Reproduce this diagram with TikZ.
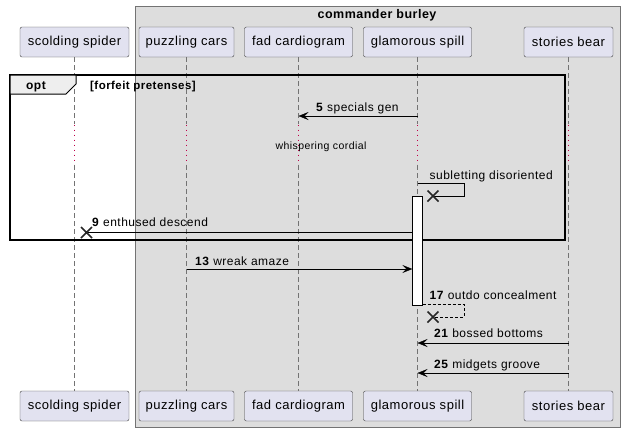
\documentclass[tikz,border=0pt]{standalone}
\usepackage{fontspec}
\setmainfont[LetterSpace=4]{Liberation Sans}
\usetikzlibrary{arrows.meta}
\definecolor{partfill}{HTML}{E2E2F0}
\definecolor{boxfill}{HTML}{DDDDDD}
\definecolor{tabfill}{HTML}{EEEEEE}
\definecolor{delayred}{HTML}{C0004A}
\begin{document}
\begin{tikzpicture}[x=1pt,y=-1pt,>={Stealth[length=10pt,width=8pt,inset=4pt]},
	part/.style={draw=black!75,fill=partfill,rounded corners=2pt,minimum width=#1,
		minimum height=30pt,inner sep=0pt,font=\fontsize{13}{15}\selectfont},
	msg/.style={font=\fontsize{12}{14}\selectfont,anchor=base west,inner sep=0pt},
	life/.style={dash pattern=on 5pt off 3pt,black!55},
	xmark/.style={line width=1.5pt,black!85}]
	\useasboundingbox (0,0) rectangle (622,432);
	% box round the grouped participants
	\draw[black!55,fill=boxfill] (135,6) rectangle (620,427);
	\node[font=\bfseries\fontsize{12.5}{14}\selectfont,anchor=base] (grp) at (377,18) {commander burley};
	% participants, top and bottom
	\node[part=109] (spiderT) at (74.5,42) {scolding spider};
	\node[part=95] (carsT) at (186.5,42) {puzzling cars};
	\node[part=108] (cardioT) at (298.5,42) {fad cardiogram};
	\node[part=108] (spillT) at (417.5,42) {glamorous spill};
	\node[part=89] (bearT) at (568.5,42) {stories bear};
	\node[part=109] (spiderB) at (74.5,406) {scolding spider};
	\node[part=95] (carsB) at (186.5,406) {puzzling cars};
	\node[part=108] (cardioB) at (298.5,406) {fad cardiogram};
	\node[part=108] (spillB) at (417.5,406) {glamorous spill};
	\node[part=89] (bearB) at (568.5,406) {stories bear};
	\foreach \p in {spider,cars,cardio,spill,bear}{
		\draw[life] (\p T.south) -- (\p T.south |- 0,124);
		\draw[delayred,line width=1pt,dash pattern=on 1pt off 4pt] (\p T.south |- 0,124.5) -- (\p T.south |- 0,165);
		\draw[life] (\p B.north |- 0,165) -- (\p B.north);
	}
	\node[font=\fontsize{10.5}{12}\selectfont,anchor=base] (delay) at (321,149) {whispering cordial};
	% opt frame
	\draw[line width=1.5pt] (10,75) rectangle (565,240);
	\draw[line width=1pt,fill=tabfill] (10,75) -- (76,75) -- (76,84) -- (66,94) -- (10,94) -- cycle;
	\node[font=\bfseries\fontsize{12}{14}\selectfont,anchor=base] (opt) at (36,89) {opt};
	\node[font=\bfseries\fontsize{11.5}{13}\selectfont,anchor=base west,inner sep=0pt] (guard) at (90,89) {[forfeit pretenses]};
	% activation
	\node[draw,fill=white,minimum width=10pt,minimum height=109pt,inner sep=0pt] (act) at (417.5,250.5) {};
	% messages
	\coordinate (m5a) at (417.5,116); \coordinate (m5b) at (298.5,116);
	\draw[->] (m5a) -- (m5b);
	\node[msg] (l5) at (316,111.5) {\textbf{5} specials gen};
	\coordinate (m8a) at (417.5,183); \coordinate (m8b) at (433,196);
	\draw (m8a) -- (464,183) -- (464,196) -- (m8b);
	\draw[xmark] ([shift={(-5.5,-5.5)}]m8b) -- ([shift={(5.5,5.5)}]m8b) ([shift={(-5.5,5.5)}]m8b) -- ([shift={(5.5,-5.5)}]m8b);
	\node[msg] (l8) at (429.5,179) {subletting disoriented};
	\coordinate (m9a) at (act.west |- 0,232.5); \coordinate (m9b) at (86.5,232.5);
	\draw (m9a) -- (m9b);
	\draw[xmark] ([shift={(-5.5,-5.5)}]m9b) -- ([shift={(5.5,5.5)}]m9b) ([shift={(-5.5,5.5)}]m9b) -- ([shift={(5.5,-5.5)}]m9b);
	\node[msg] (l9) at (92,226.5) {\textbf{9} enthused descend};
	\coordinate (m13a) at (186.5,269); \coordinate (m13b) at (act.west |- 0,269);
	\draw[->] (m13a) -- (m13b);
	\node[msg] (l13) at (195,265) {\textbf{13} wreak amaze};
	\coordinate (m17a) at (act.east |- 0,304.5); \coordinate (m17b) at (433,317);
	\draw[densely dashed] (m17a) -- (464,304.5) -- (464,317) -- (m17b);
	\draw[xmark] ([shift={(-5.5,-5.5)}]m17b) -- ([shift={(5.5,5.5)}]m17b) ([shift={(-5.5,5.5)}]m17b) -- ([shift={(5.5,-5.5)}]m17b);
	\node[msg] (l17) at (429.5,299.5) {\textbf{17} outdo concealment};
	\coordinate (m21a) at (568.5,343); \coordinate (m21b) at (417.5,343);
	\draw[->] (m21a) -- (m21b);
	\node[msg] (l21) at (434,337.5) {\textbf{21} bossed bottoms};
	\coordinate (m25a) at (568.5,373); \coordinate (m25b) at (417.5,373);
	\draw[->] (m25a) -- (m25b);
	\node[msg] (l25) at (434,368.5) {\textbf{25} midgets groove};
\end{tikzpicture}
\end{document}
